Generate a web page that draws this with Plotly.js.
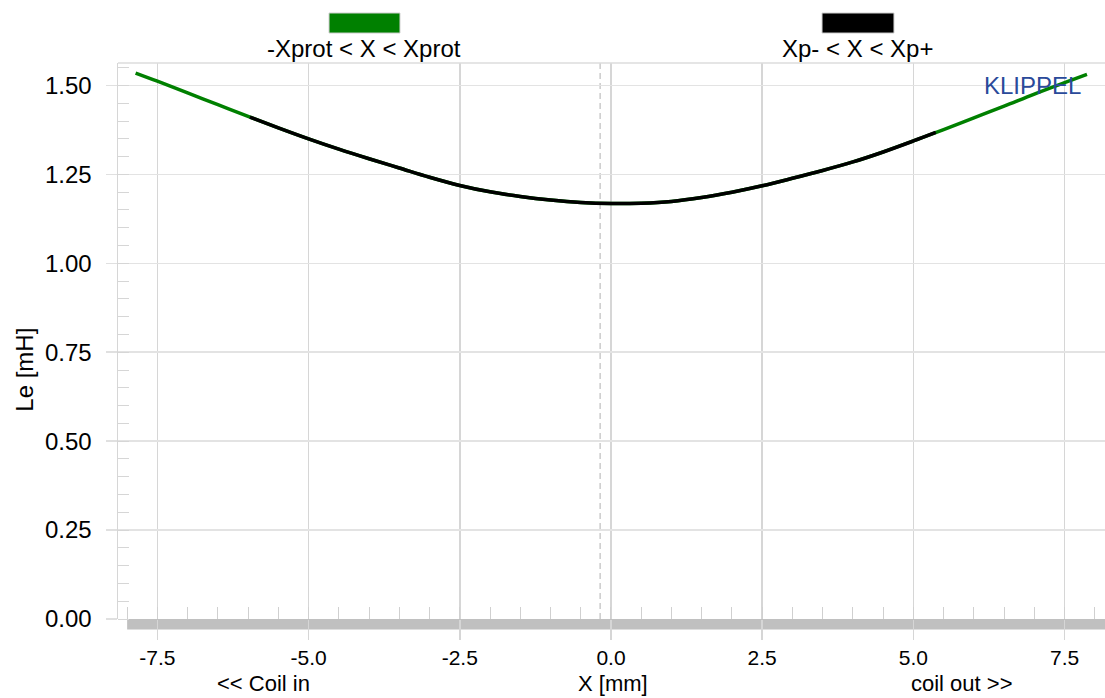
<!DOCTYPE html>
<html>
<head>
<meta charset="utf-8">
<script src="https://cdn.plot.ly/plotly-3.0.1.min.js"></script>
<style>
  html, body { margin: 0; padding: 0; background: #ffffff; }
  #chart { width: 1105px; height: 698px; }
</style>
</head>
<body>
<div id="chart"></div>
<script>
// Le(X) curve, full protected range (green)
const xFull = [-7.86, -7.5, -7.0, -6.5, -6.0, -5.5, -5.0, -4.5, -4.0, -3.5, -3.0, -2.5, -2.0, -1.5, -1.0, -0.5, 0.0, 0.5, 1.0, 1.5, 2.0, 2.5, 3.0, 3.5, 4.0, 4.5, 5.0, 5.5, 6.0, 6.5, 7.0, 7.5, 7.87];
const leFull = [1.535, 1.512, 1.479, 1.446, 1.413, 1.381, 1.350, 1.321, 1.294, 1.268, 1.242, 1.219, 1.201, 1.188, 1.178, 1.171, 1.168, 1.169, 1.174, 1.185, 1.200, 1.218, 1.239, 1.261, 1.285, 1.313, 1.344, 1.376, 1.409, 1.442, 1.476, 1.508, 1.531];
// Le(X) within Xp- < X < Xp+ (black)
const xPeak = [-5.97, -5.5, -5.0, -4.5, -4.0, -3.5, -3.0, -2.5, -2.0, -1.5, -1.0, -0.5, 0.0, 0.5, 1.0, 1.5, 2.0, 2.5, 3.0, 3.5, 4.0, 4.5, 5.0, 5.37];
const lePeak = [1.411, 1.381, 1.350, 1.321, 1.294, 1.268, 1.242, 1.219, 1.201, 1.188, 1.178, 1.171, 1.168, 1.169, 1.174, 1.185, 1.200, 1.218, 1.239, 1.261, 1.285, 1.313, 1.344, 1.368];
const restPosition = -0.18;   // dashed marker
const strokeStart = -8.0;     // start of the grey stroke bar
const legendLabels = ['-Xprot < X < Xprot', 'Xp- < X < Xp+'];
const legendColors = ['#008000', '#000000'];
const xTickVals = [-7.5, -5.0, -2.5, 0.0, 2.5, 5.0, 7.5];
const yTickVals = [0.00, 0.25, 0.50, 0.75, 1.00, 1.25, 1.50];

const FONT = 'Liberation Sans, Arial, Helvetica, sans-serif';
const FS = 24;

const traces = [
  { x: xFull, y: leFull, type: 'scatter', mode: 'lines', line: { color: legendColors[0], width: 3.5, shape: 'spline', smoothing: 1 }, showlegend: false, hoverinfo: 'skip' },
  { x: xPeak, y: lePeak, type: 'scatter', mode: 'lines', line: { color: legendColors[1], width: 3.5, shape: 'spline', smoothing: 1 }, showlegend: false, hoverinfo: 'skip' }
];

const layout = {
  width: 1105, height: 698,
  margin: { l: 118, r: 0, t: 63, b: 78.5, pad: 0 },
  paper_bgcolor: '#ffffff', plot_bgcolor: '#ffffff',
  font: { family: FONT, size: FS, color: '#000000' },
  showlegend: false,
  xaxis: {
    range: [-8.151, 8.168],
    tickmode: 'array', tickvals: xTickVals, ticktext: xTickVals.map(v => v.toFixed(1)),
    ticks: 'outside', ticklen: 20, tickcolor: '#d6d6d6', tickwidth: 1.5,
    ticklabelstandoff: 0,
    showgrid: true, gridcolor: '#d6d6d6', gridwidth: 1.5,
    zeroline: false, showline: false,
    minor: { tick0: 0, dtick: 0.5, ticks: 'inside', ticklen: 12, tickcolor: '#d0d0d0', tickwidth: 1, showgrid: false },
    tickfont: { family: FONT, size: 21, color: '#000000' }
  },
  yaxis: {
    range: [0, 1.5632],
    tickmode: 'array', tickvals: yTickVals, ticktext: yTickVals.map(v => v.toFixed(2)),
    ticks: 'outside', ticklen: 11, tickcolor: '#e0e0e0', tickwidth: 1.5,
    ticklabelstandoff: 9,
    showgrid: true, gridcolor: '#e3e3e3', gridwidth: 1.5,
    zeroline: false, showline: true, linecolor: '#d6d6d6', linewidth: 1.5,
    minor: { tick0: 0, dtick: 0.05, ticks: 'inside', ticklen: 11, tickcolor: '#d6d6d6', tickwidth: 1, showgrid: false },
    tickfont: { family: FONT, size: FS, color: '#000000' }
  },
  shapes: [
    { type: 'rect', xref: 'x', yref: 'paper', x0: strokeStart, x1: 8.168, y0: -0.0189, y1: 0, fillcolor: '#c0c0c0', line: { width: 0 }, layer: 'below' },
    { type: 'line', xref: 'paper', yref: 'paper', x0: 0, x1: 1, y0: 1, y1: 1, line: { color: '#dcdcdc', width: 1.5 } },
    { type: 'line', xref: 'x', yref: 'paper', x0: restPosition, x1: restPosition, y0: 0, y1: 1, line: { color: '#b0b0b0', width: 1, dash: '6px,4px' }, layer: 'below' },
    { type: 'rect', xref: 'paper', yref: 'paper', x0: 0.2138, x1: 0.2857, y0: 1.0539, y1: 1.0899, fillcolor: legendColors[0], line: { color: '#cfcfcf', width: 1 } },
    { type: 'rect', xref: 'paper', yref: 'paper', x0: 0.7133, x1: 0.7862, y0: 1.0539, y1: 1.0899, fillcolor: legendColors[1], line: { color: '#cfcfcf', width: 1 } }
  ],
  annotations: [
    { text: legendLabels[0], xref: 'paper', yref: 'paper', x: 0.2497, y: 1.0252, xanchor: 'center', yanchor: 'middle', showarrow: false, font: { family: FONT, size: FS, color: '#000' } },
    { text: legendLabels[1], xref: 'paper', yref: 'paper', x: 0.7497, y: 1.0252, xanchor: 'center', yanchor: 'middle', showarrow: false, font: { family: FONT, size: FS, color: '#000' } },
    { text: 'KLIPPEL', xref: 'paper', yref: 'paper', x: 0.9777, y: 0.9587, xanchor: 'right', yanchor: 'middle', showarrow: false, font: { family: FONT, size: FS, color: '#2a4a9a' } },
    { text: 'Le [mH]', xref: 'paper', yref: 'paper', x: -0.0942, y: 0.4484, xanchor: 'center', yanchor: 'middle', textangle: -90, showarrow: false, font: { family: FONT, size: FS, color: '#000' } },
    { text: '<< Coil in', xref: 'paper', yref: 'paper', x: 0.147, y: -0.1429, xanchor: 'center', yanchor: 'bottom', showarrow: false, font: { family: FONT, size: 22, color: '#000' } },
    { text: 'X [mm]', xref: 'paper', yref: 'paper', x: 0.5015, y: -0.1429, xanchor: 'center', yanchor: 'bottom', showarrow: false, font: { family: FONT, size: 22, color: '#000' } },
    { text: 'coil out >>', xref: 'paper', yref: 'paper', x: 0.855, y: -0.1429, xanchor: 'center', yanchor: 'bottom', showarrow: false, font: { family: FONT, size: 22, color: '#000' } }
  ]
};

Plotly.newPlot('chart', traces, layout, { displayModeBar: false, staticPlot: true });
</script>
</body>
</html>
